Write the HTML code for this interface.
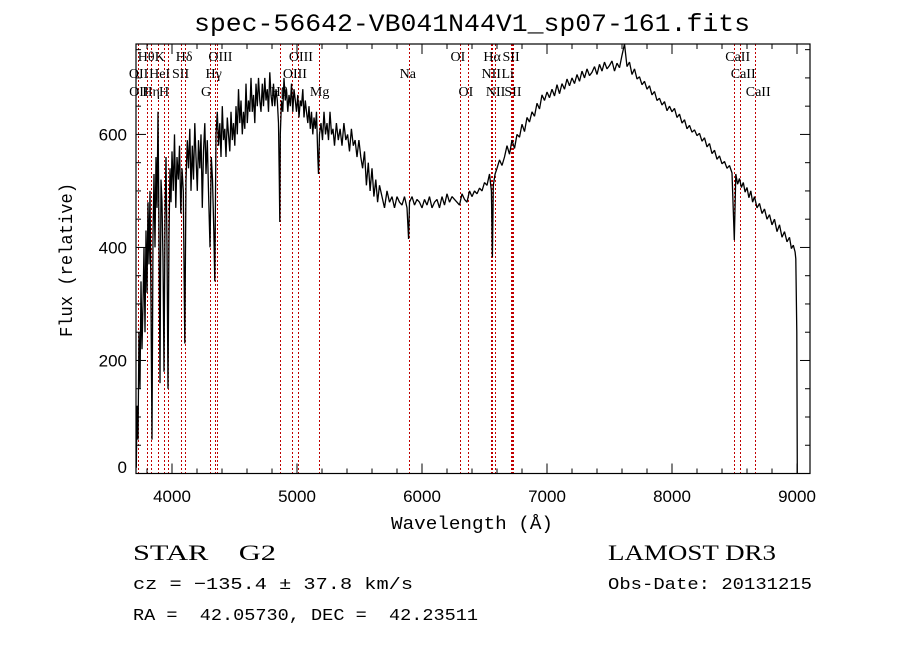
<!DOCTYPE html>
<html><head><meta charset="utf-8"><style>
html,body{margin:0;padding:0;background:#fff;}
svg{display:block;}
text{white-space:pre;}
.lab{font-family:"Liberation Serif",serif;font-size:14px;fill:#000;}
</style></head><body>
<svg id="chart" width="900" height="649" viewBox="0 0 900 649" xmlns="http://www.w3.org/2000/svg" xml:space="preserve">
<rect x="0" y="0" width="900" height="649" fill="#fff"/>
<text x="472" y="31" text-anchor="middle" font-family="Liberation Mono, monospace" font-size="25" textLength="556" lengthAdjust="spacingAndGlyphs">spec-56642-VB041N44V1_sp07-161.fits</text>
<g id="lines"></g>
<g id="labels"></g>
<path id="spec" fill="none" stroke="#000" stroke-width="1.3" stroke-linejoin="bevel"/>
<g id="axes"></g>
<text x="472" y="529" text-anchor="middle" font-family="Liberation Mono, monospace" font-size="18" textLength="162" lengthAdjust="spacingAndGlyphs">Wavelength (Å)</text>
<text transform="translate(72,260) rotate(-90)" text-anchor="middle" font-family="Liberation Mono, monospace" font-size="18" textLength="154" lengthAdjust="spacingAndGlyphs">Flux (relative)</text>
<text x="133" y="560" font-family="Liberation Serif, serif" font-size="22" textLength="143" lengthAdjust="spacingAndGlyphs">STAR    G2</text>
<text x="608" y="560" font-family="Liberation Serif, serif" font-size="22" textLength="168" lengthAdjust="spacingAndGlyphs">LAMOST DR3</text>
<text x="133" y="589" font-family="Liberation Mono, monospace" font-size="17" textLength="280" lengthAdjust="spacingAndGlyphs">cz = −135.4 ± 37.8 km/s</text>
<text x="608" y="589" font-family="Liberation Mono, monospace" font-size="17" textLength="204" lengthAdjust="spacingAndGlyphs">Obs-Date: 20131215</text>
<text x="133" y="620" font-family="Liberation Mono, monospace" font-size="17" textLength="345" lengthAdjust="spacingAndGlyphs">RA =  42.05730, DEC =  42.23511</text>
</svg>
<script>
const wl=[3714,3720,3728,3736,3744,3752,3760,3768,3776,3784,3792,3800,3808,3816,3824,3832,3840,3848,3856,3864,3872,3880,3888,3896,3904,3912,3920,3928,3936,3944,3952,3960,3968,3976,3984,3992,4000,4010,4020,4030,4040,4050,4060,4070,4080,4090,4102,4112,4122,4132,4142,4152,4162,4172,4182,4192,4202,4212,4222,4232,4242,4252,4262,4272,4282,4292,4304,4314,4324,4334,4342,4352,4362,4372,4382,4392,4402,4412,4422,4432,4442,4452,4462,4472,4482,4492,4502,4512,4522,4532,4542,4552,4562,4572,4582,4592,4602,4612,4622,4632,4642,4652,4662,4672,4682,4692,4702,4712,4722,4732,4742,4752,4762,4772,4782,4792,4802,4812,4822,4832,4842,4852,4858,4862,4866,4876,4886,4896,4906,4916,4926,4936,4946,4956,4966,4976,4986,4996,5006,5016,5026,5036,5046,5056,5066,5076,5086,5096,5106,5116,5126,5136,5146,5156,5166,5172,5180,5192,5204,5216,5228,5240,5252,5264,5276,5288,5300,5315,5330,5345,5360,5375,5390,5405,5420,5435,5450,5465,5480,5495,5510,5525,5540,5555,5570,5585,5600,5615,5630,5645,5660,5680,5700,5720,5740,5760,5780,5800,5820,5840,5860,5880,5893,5900,5920,5940,5960,5980,6000,6020,6040,6060,6080,6100,6120,6140,6160,6180,6200,6220,6240,6260,6280,6300,6320,6340,6360,6380,6400,6420,6440,6460,6480,6500,6520,6540,6555,6563,6570,
6585,6600,6620,6640,6660,6680,6700,6720,6740,6760,
6780,6800,6820,6840,6860,6880,6900,6920,6940,6960,
6980,7000,7020,7040,7060,7080,7100,7120,7140,7160,
7180,7200,7220,7240,7260,7280,7300,7320,7340,7360,
7380,7400,7420,7440,7460,7480,7500,7520,7540,7560,
7580,7600,7620,7640,7660,7680,7700,7720,7740,7760,
7780,7800,7820,7840,7860,7880,7900,7920,7940,7960,
7980,8000,8020,8040,8060,8080,8100,8120,8140,8160,
8180,8200,8220,8240,8260,8280,8300,8320,8340,8360,
8380,8400,8420,8440,8460,8480,8498,8510,8525,8540,
8555,8570,8585,8600,8615,8630,8645,8660,8680,8700,
8720,8740,8760,8780,8800,8820,8840,8860,8880,8900,
8920,8940,8955,8970,8985,8990,8998,9000,9002];
const flux=[10,120,60,250,150,340,220,300,400,250,430,320,480,370,500,300,60,420,530,400,560,470,640,430,160,520,480,380,180,450,560,400,150,420,540,480,570,500,600,470,560,520,580,460,540,500,230,520,590,540,610,500,580,520,620,560,500,590,540,600,470,570,620,530,590,500,400,560,520,430,340,600,640,580,620,560,650,590,610,560,630,600,570,640,590,620,580,650,600,680,620,660,600,640,610,690,620,660,640,700,640,670,620,690,650,700,660,640,690,650,700,660,680,640,710,670,650,690,650,680,660,620,520,445,600,660,640,700,660,680,640,670,650,690,640,680,660,640,670,630,660,650,680,630,660,640,620,650,610,640,600,630,610,640,560,530,600,620,590,640,600,620,590,640,600,610,580,620,590,610,580,620,590,600,570,610,580,590,560,590,560,540,570,510,550,500,540,490,520,480,510,490,470,500,480,490,470,490,480,475,490,470,415,480,490,475,485,480,470,485,475,490,470,480,485,470,490,475,495,480,490,485,480,475,495,485,480,500,490,500,495,505,500,515,510,530,500,383,510,
530,540,555,545,560,580,565,590,575,600,
595,618,605,630,622,640,632,655,645,670,
660,675,665,680,668,688,672,690,680,698,
686,700,690,706,694,712,700,716,704,710,
720,706,724,712,728,716,722,730,712,726,
718,740,760,720,728,706,716,698,702,688,
694,680,686,670,676,660,664,652,658,642,
650,640,646,630,636,620,626,610,616,604,
608,598,602,588,594,578,584,566,572,556,
562,548,552,540,545,532,413,530,512,522,
506,515,498,506,488,500,480,490,470,478,
460,468,450,458,440,450,428,440,418,428,
410,418,398,404,392,380,250,150,0];
const lineWl=[3727,3729,3798,3835,3889,3934,3968,4072,4102,4304,4340,4363,4861,4959,5007,5175,5893,6300,6364,6548,6563,6583,6708,6716,6731,8498,8542,8662];
const tickX=[4000,5000,6000,7000,8000,9000];
const tickY=[0,200,400,600];
const labText=["Hθ","K","Hδ","OIII","OIII","OI","Hα","SII","CaII","OII","HeI","SII","Hγ","OIII","Na","NII","Li","CaII","OII","Hη","H","G","Hβ","Mg","OI","NII","SII","CaII"];
const labWl=[3798,3934,4102,4363,5007,6300,6563,6716,8498,3727,3889,4072,4340,4959,5893,6548,6708,8542,3729,3835,3968,4304,4861,5175,6364,6583,6731,8662];
const labRow=[0,0,0,0,0,0,0,0,0,1,1,1,1,1,1,1,1,1,2,2,2,2,2,2,2,2,2,2];

const L=136,R=810,T=44,B=473.5;
const X0=3712,X1=9104,Y0=0,Y1=760;
const sx=w=>L+(w-X0)/(X1-X0)*(R-L);
const sy=f=>B-(f-Y0)/(Y1-Y0)*(B-T);
const NS="http://www.w3.org/2000/svg";
function mk(tag,attrs,parent){const e=document.createElementNS(NS,tag);for(const k in attrs)e.setAttribute(k,attrs[k]);parent.appendChild(e);return e;}

let d="";
const n=Math.min(wl.length,flux.length);
for(let i=0;i<n;i++){d+=(i?"L":"M")+sx(wl[i]).toFixed(1)+","+Math.min(B,Math.max(T,sy(flux[i]))).toFixed(1);}
document.getElementById('spec').setAttribute('d',d);

const lg=document.getElementById('lines');
lineWl.forEach(w=>{
  const x=Math.round(sx(w))+0.5;
  const ln=mk('line',{x1:x,x2:x,y1:T,y2:B,stroke:'#c00000','stroke-width':1,'stroke-dasharray':'2,2','shape-rendering':'crispEdges'},lg);
  
  
});
const lb=document.getElementById('labels');
const rowY=[61,78,96];
labText.forEach((t,i)=>{
  const tx=mk('text',{x:sx(labWl[i])-9,y:rowY[labRow[i]],class:'lab'},lb);
  tx.textContent=t;
  
  
});

const ax=document.getElementById('axes');
const frame=mk('rect',{x:L,y:T,width:R-L,height:B-T,fill:'none',stroke:'#000','stroke-width':1.2},ax);


for(let w=3800;w<=9100;w+=200){
  const major=(w%1000===0);const len=major?10:5;const x=sx(w);
  mk('line',{x1:x,x2:x,y1:B,y2:B-len,stroke:'#000','stroke-width':1},ax);
  mk('line',{x1:x,x2:x,y1:T,y2:T+len,stroke:'#000','stroke-width':1},ax);
}
for(let f=0;f<=750;f+=50){
  const major=(f%200===0);const len=major?10:5;const y=sy(f);
  mk('line',{x1:L,x2:L+len,y1:y,y2:y,stroke:'#000','stroke-width':1},ax);
  mk('line',{x1:R,x2:R-len,y1:y,y2:y,stroke:'#000','stroke-width':1},ax);
}
tickX.forEach(w=>{
  const t=mk('text',{x:sx(w),y:502,'text-anchor':'middle','font-family':'Liberation Sans, sans-serif','font-size':17},ax);
  t.textContent=w;
  
  
});
tickY.forEach(f=>{
  const t=mk('text',{x:127,y:Math.min(sy(f)+6,473),'text-anchor':'end','font-family':'Liberation Sans, sans-serif','font-size':17},ax);
  t.textContent=f;
  
  
});
</script>
</body></html>
